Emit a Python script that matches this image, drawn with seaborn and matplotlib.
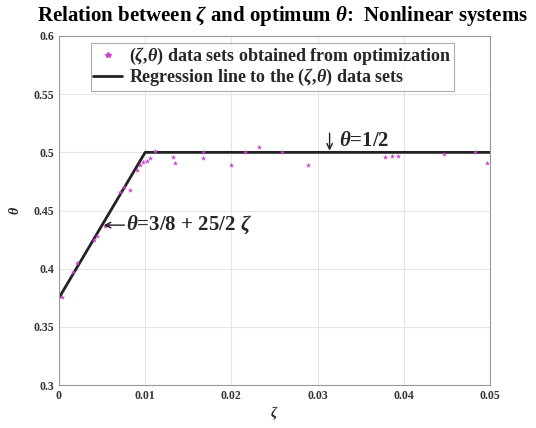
import matplotlib
matplotlib.use("Agg")
import matplotlib.pyplot as plt
from matplotlib.lines import Line2D
import pandas as pd
import seaborn as sns

# optimization results (zeta, theta)
zeta = [0.0003, 0.0016, 0.0021, 0.0041, 0.0044, 0.0053, 0.0057, 0.0071, 0.0075,
        0.0082, 0.0090, 0.0094, 0.0097, 0.0102, 0.0106, 0.0112, 0.0132, 0.0135,
        0.0167, 0.0167, 0.0200, 0.0216, 0.0232, 0.0259, 0.0289, 0.0378, 0.0386,
        0.0393, 0.0447, 0.0483, 0.0497]
theta = [0.376, 0.397, 0.405, 0.425, 0.428, 0.437, 0.438, 0.466, 0.470,
         0.468, 0.485, 0.489, 0.492, 0.493, 0.495, 0.501, 0.496, 0.491,
         0.500, 0.495, 0.489, 0.500, 0.505, 0.500, 0.489, 0.496, 0.497,
         0.497, 0.499, 0.500, 0.491]

# piecewise regression line
reg_zeta = [0.0, 0.01, 0.05]
reg_theta = [0.375, 0.5, 0.5]

xticks = [0, 0.01, 0.02, 0.03, 0.04, 0.05]
xticklabels = ["0", "0.01", "0.02", "0.03", "0.04", "0.05"]
yticks = [0.3, 0.35, 0.4, 0.45, 0.5, 0.55, 0.6]
yticklabels = ["0.3", "0.35", "0.4", "0.45", "0.5", "0.55", "0.6"]

sns.set_style("whitegrid")
plt.rcParams["font.family"] = ["Liberation Serif", "DejaVu Serif"]
plt.rcParams["font.weight"] = "bold"
plt.rcParams["mathtext.fontset"] = "custom"
plt.rcParams["mathtext.rm"] = "Liberation Serif:bold"
plt.rcParams["mathtext.it"] = "Liberation Serif:italic:bold"
plt.rcParams["mathtext.bf"] = "Liberation Serif:bold"

fig = plt.figure(figsize=(5.36, 4.28), dpi=100)
ax = fig.add_axes([0.110, 0.100, 0.804, 0.816])

pts = pd.DataFrame({"zeta": zeta, "theta": theta})
reg = pd.DataFrame({"zeta": reg_zeta, "theta": reg_theta})

sns.lineplot(data=reg, x="zeta", y="theta", color="#222222", linewidth=2,
             ax=ax, zorder=2)
sns.scatterplot(data=pts, x="zeta", y="theta", marker="*", color="#d040d0",
                s=16, linewidth=0, ax=ax, zorder=3)

ax.set_xlim(0, 0.05)
ax.set_ylim(0.3, 0.6)
ax.set_xticks(xticks)
ax.set_xticklabels(xticklabels)
ax.set_yticks(yticks)
ax.set_yticklabels(yticklabels)
ax.tick_params(labelsize=8.5, colors="#333333", length=3, direction="in")
for lab in ax.get_xticklabels() + ax.get_yticklabels():
    lab.set_fontweight("bold")
ax.grid(True, color="#e6e6e6", linewidth=0.8)
for sp in ax.spines.values():
    sp.set_color("#999999")
    sp.set_linewidth(0.8)

ax.set_xlabel(r"$\zeta$", fontsize=10, labelpad=2)
ax.set_ylabel(r"$\theta$", fontsize=10, labelpad=8)
ax.set_title(r"Relation between $\zeta$ and optimum $\theta$:  Nonlinear systems",
             fontsize=15, fontweight="bold", color="black", x=0.52, y=1.02)

# annotations with MATLAB-style long arrows
arrow = dict(arrowstyle="->", lw=1.0, color="#222222", shrinkA=0, shrinkB=0)
ax.annotate("", xy=(0.0052, 0.4375), xytext=(0.0076, 0.4375), arrowprops=arrow)
ax.text(0.0078, 0.4375, r"$\theta$=3/8 + 25/2 $\zeta$", fontsize=15,
        ha="left", va="center")
ax.annotate("", xy=(0.0314, 0.5015), xytext=(0.0314, 0.5165), arrowprops=arrow)
ax.text(0.0325, 0.5095, r"$\theta$=1/2", fontsize=15, ha="left", va="center")

handles = [
    Line2D([], [], marker="*", color="#d040d0", linestyle="none", markersize=4),
    Line2D([], [], color="#222222", linewidth=2),
]
labels = [r"($\zeta$,$\theta$) data sets obtained from optimization",
          r"Regression line to the ($\zeta$,$\theta$) data sets"]
leg = ax.legend(handles, labels, loc="upper left", bbox_to_anchor=(0.065, 0.99),
                fontsize=13, frameon=True, fancybox=False, borderpad=0.15,
                handlelength=1.6, handletextpad=0.4, labelspacing=0.0,
                borderaxespad=0.2)
leg.get_frame().set_edgecolor("#999999")
leg.get_frame().set_linewidth(0.8)

fig.savefig("out.png", dpi=100)
